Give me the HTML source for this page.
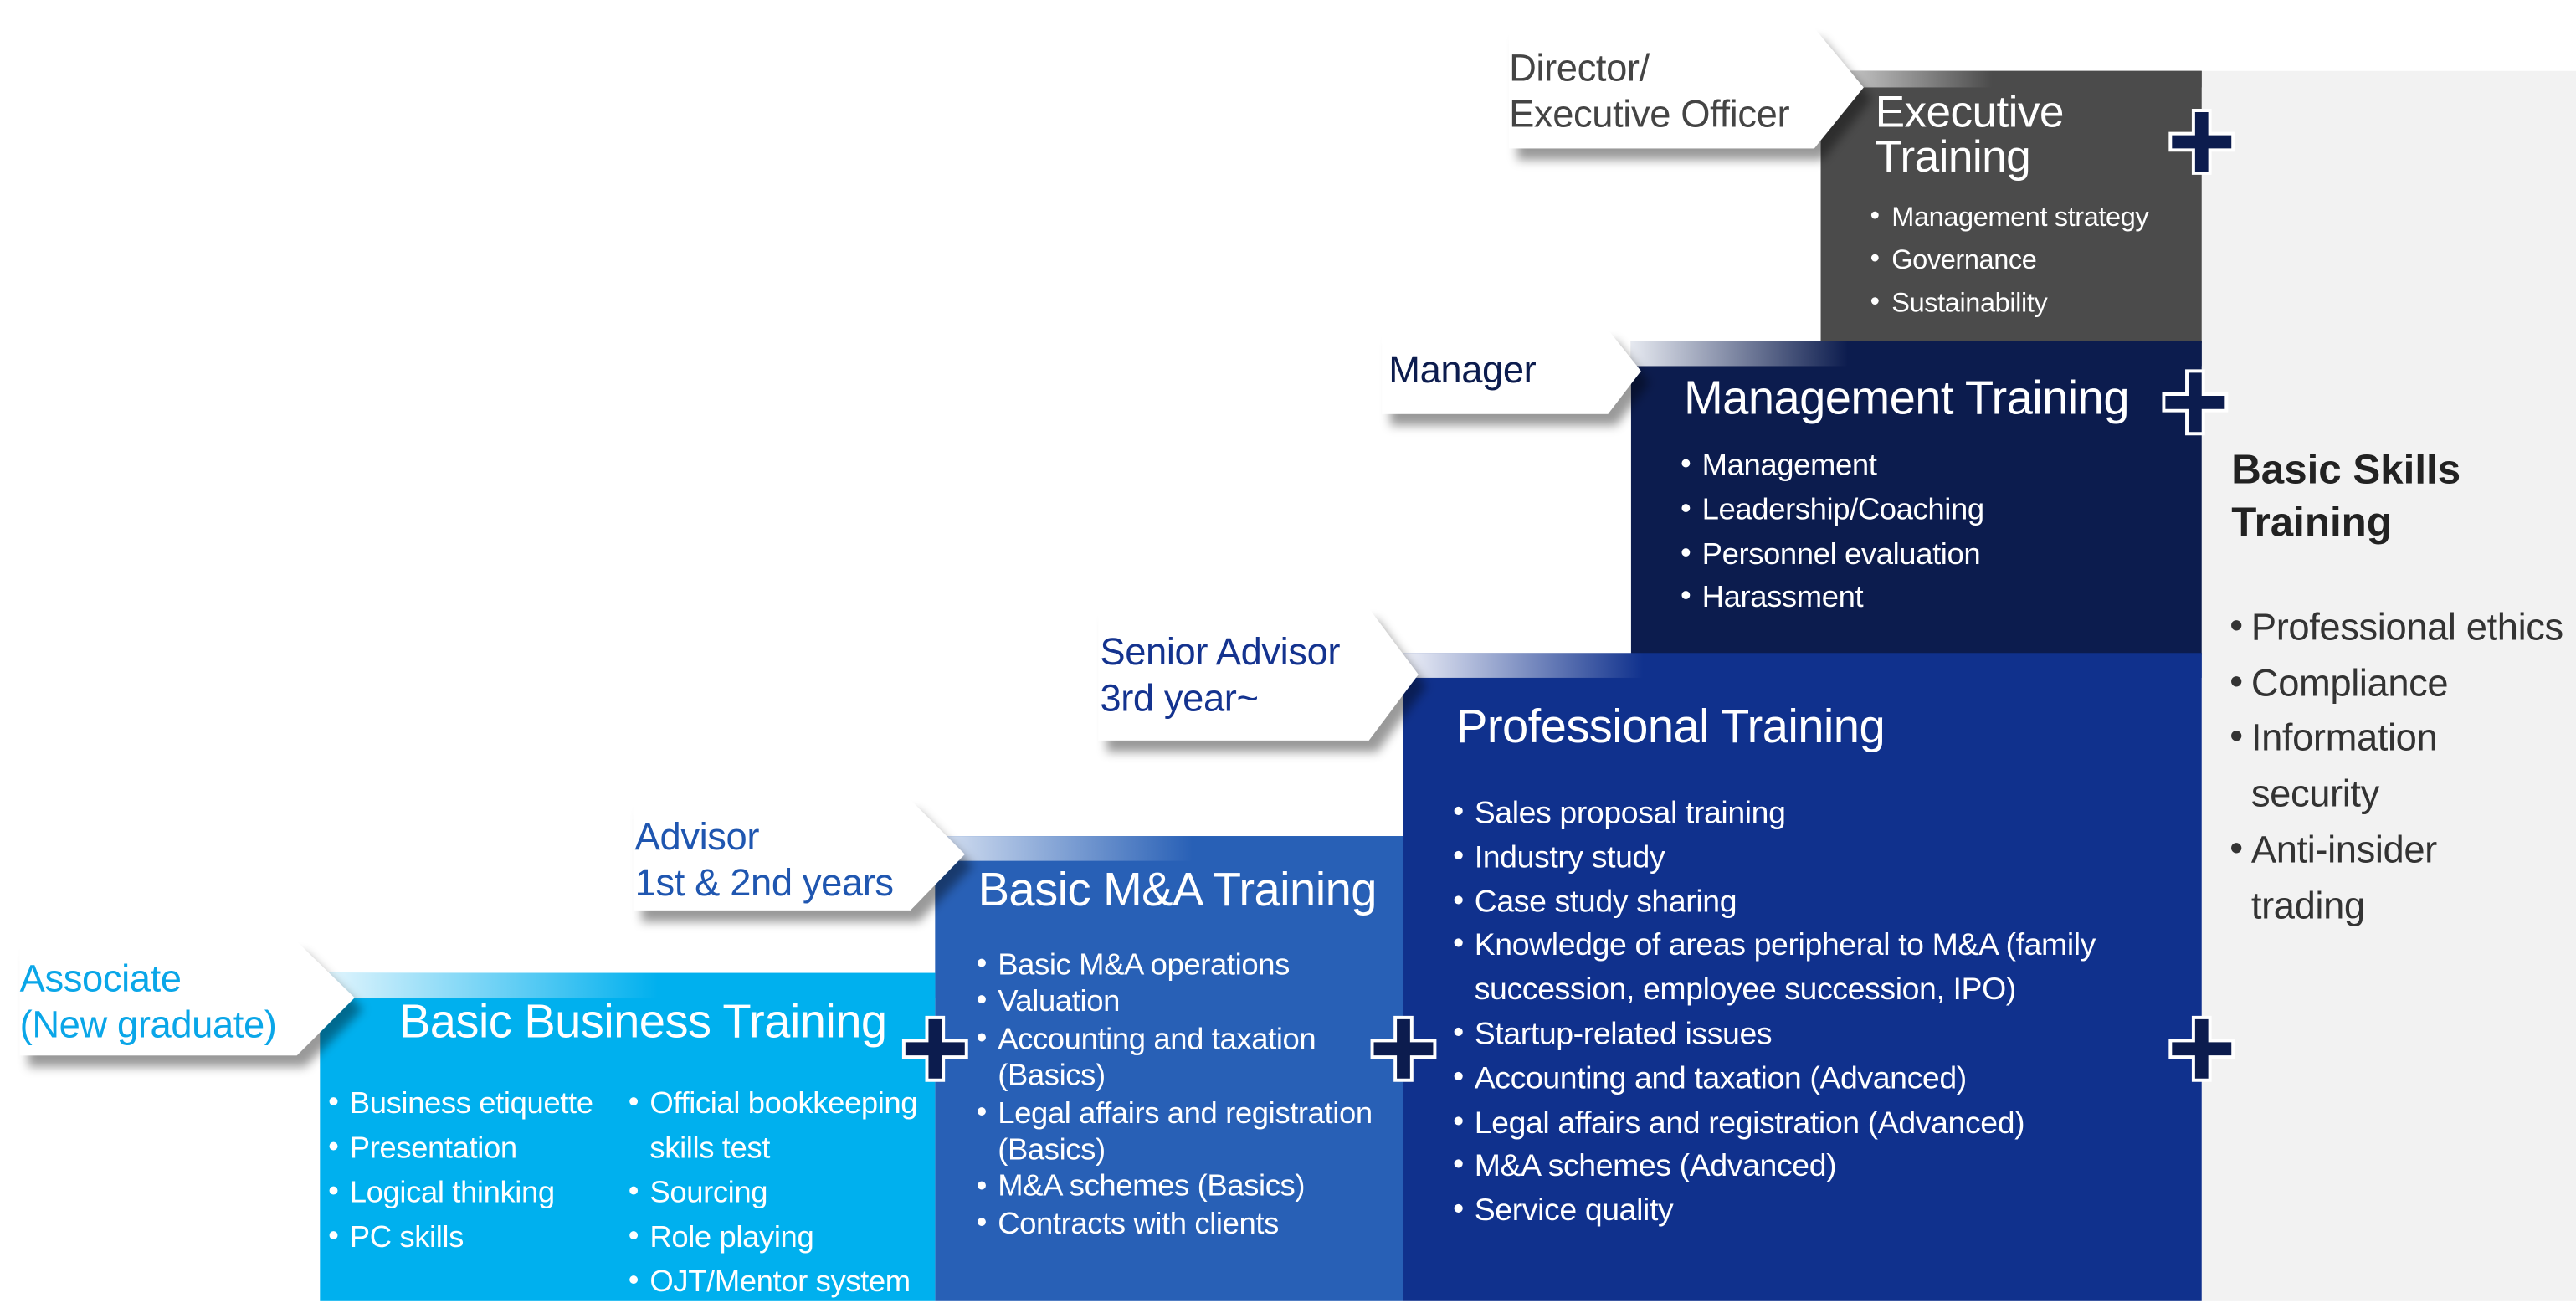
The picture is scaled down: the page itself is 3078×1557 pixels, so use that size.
<!DOCTYPE html>
<html><head><meta charset="utf-8"><style>
html,body{margin:0;padding:0;background:#fff;}
body{width:3078px;height:1554px;overflow:hidden;position:relative;}
#c{position:absolute;left:0;top:0;width:1562px;height:789px;transform:scale(1.9706);transform-origin:0 0;font-family:"Liberation Sans",sans-serif;}
.a{position:absolute;}
.box{position:absolute;}
.band{position:absolute;left:0;right:0;top:0;height:15px;}
.t{position:absolute;color:#fff;font-size:28px;white-space:nowrap;letter-spacing:-0.3px;}
ul{position:absolute;margin:0;padding:0;list-style:none;color:#fff;white-space:nowrap;letter-spacing:-0.2px;}
li{position:relative;padding-left:12px;}
li:before{content:"•";position:absolute;left:-1px;font-size:1em;top:-0.05em;}
.lab{position:absolute;font-size:23px;line-height:28px;white-space:nowrap;letter-spacing:-0.2px;}
</style></head><body><div id="c">

<div class="box" style="left:1335px;top:43px;width:227px;height:746px;background:#f2f2f2"></div>

<div class="box" style="left:1104px;top:43px;width:231px;height:165px;background:#4b4b4b">
 <div class="band" style="height:10px;background:linear-gradient(90deg,#ddd 0%,#4b4b4b 45%)"></div>
 <div class="t" style="left:33px;top:12px;line-height:27px;font-size:27px">Executive<br>Training</div>
 <ul style="left:31px;top:76px;font-size:16.5px;line-height:26px"><li>Management strategy</li><li>Governance</li><li>Sustainability</li></ul>
</div>

<div class="box" style="left:989px;top:207px;width:346px;height:190px;background:#0c1c4e">
 <div class="band" style="background:linear-gradient(90deg,#e6e9f0 0%,#0c1c4e 38%)"></div>
 <div class="t" style="left:32px;top:19px;font-size:28.5px">Management Training</div>
 <ul style="left:31px;top:62px;font-size:18.5px;line-height:26.8px"><li>Management</li><li>Leadership/Coaching</li><li>Personnel evaluation</li><li>Harassment</li></ul>
</div>

<div class="box" style="left:851px;top:396px;width:484px;height:393px;background:#10318d">
 <div class="band" style="background:linear-gradient(90deg,#eef0f8 0%,#10318d 30%)"></div>
 <div class="t" style="left:32px;top:29px;font-size:28.5px">Professional Training</div>
 <ul style="left:31px;top:85px;font-size:19px;line-height:26.8px"><li>Sales proposal training</li><li>Industry study</li><li>Case study sharing</li><li>Knowledge of areas peripheral to M&amp;A (family<br>succession, employee succession, IPO)</li><li>Startup-related issues</li><li>Accounting and taxation (Advanced)</li><li>Legal affairs and registration (Advanced)</li><li>M&amp;A schemes (Advanced)</li><li>Service quality</li></ul>
</div>

<div class="box" style="left:567px;top:507px;width:284px;height:282px;background:#2860b6">
 <div class="band" style="background:linear-gradient(90deg,#d8e2f2 0%,#2860b6 55%)"></div>
 <div class="t" style="left:26px;top:17px;font-size:28.5px">Basic M&amp;A Training</div>
 <ul style="left:26px;top:67px;font-size:18.5px;line-height:22.4px"><li>Basic M&amp;A operations</li><li>Valuation</li><li>Accounting and taxation<br>(Basics)</li><li>Legal affairs and registration<br>(Basics)</li><li>M&amp;A schemes (Basics)</li><li>Contracts with clients</li></ul>
</div>

<div class="box" style="left:194px;top:590px;width:373px;height:199px;background:#00b0ee">
 <div class="band" style="background:linear-gradient(90deg,#e6f6fd 0%,#00b0ee 55%)"></div>
 <div class="t" style="left:48px;top:14px;font-size:28.5px">Basic Business Training</div>
 <ul style="left:6px;top:65px;font-size:18.5px;line-height:27px"><li>Business etiquette</li><li>Presentation</li><li>Logical thinking</li><li>PC skills</li></ul>
 <ul style="left:188px;top:65px;font-size:18.5px;line-height:27px"><li>Official bookkeeping<br>skills test</li><li>Sourcing</li><li>Role playing</li><li>OJT/Mentor system</li></ul>
</div>

<svg class="a" style="left:0;top:0" width="1562" height="789">
 <defs><filter id="sh" x="-20%" y="-20%" width="150%" height="160%"><feDropShadow dx="5" dy="7" stdDeviation="3" flood-color="#000" flood-opacity="0.4"/></filter></defs>
 <g fill="#fff" filter="url(#sh)">
  <polygon points="12,571 180,571 215,605 180,640 12,640"/>
  <polygon points="384,485 552,485 585,518 552,552 384,552"/>
  <polygon points="666,369 830,369 860,409 830,449 666,449"/>
  <polygon points="838,200 975,200 995,225 975,251 838,251"/>
  <polygon points="915,17 1100,17 1130,53 1100,90 915,90"/>
 </g>
 <g fill="#0c1c4e" stroke="#fff" stroke-width="2">
  <path d="M562,617h10v14h14v10h-14v14h-10v-14h-14v-10h14z"/>
  <path d="M846,617h10v14h14v10h-14v14h-10v-14h-14v-10h14z"/>
  <path d="M1330,617h10v14h14v10h-14v14h-10v-14h-14v-10h14z"/>
  <path d="M1326,225h10v14h14v10h-14v14h-10v-14h-14v-10h14z"/>
  <path d="M1330,67h10v14h14v10h-14v14h-10v-14h-14v-10h14z"/>
 </g>
</svg>
<div class="lab" style="left:12px;top:579px;color:#0aa6e8">Associate<br>(New graduate)</div>
<div class="lab" style="left:385px;top:493px;color:#1f56b0">Advisor<br>1st &amp; 2nd years</div>
<div class="lab" style="left:667px;top:381px;color:#14338f">Senior Advisor<br>3rd year~</div>
<div class="lab" style="left:842px;top:210px;color:#0c1c4e">Manager</div>
<div class="lab" style="left:915px;top:27px;color:#444">Director/<br>Executive Officer</div>

<div class="a" style="left:1353px;top:269px;font-size:25px;font-weight:bold;line-height:32px;color:#222">Basic Skills<br>Training</div>
<ul style="left:1353px;top:364px;font-size:23px;line-height:33.7px;color:#333"><li>Professional ethics</li><li>Compliance</li><li>Information<br>security</li><li>Anti-insider<br>trading</li></ul>

</div></body></html>
